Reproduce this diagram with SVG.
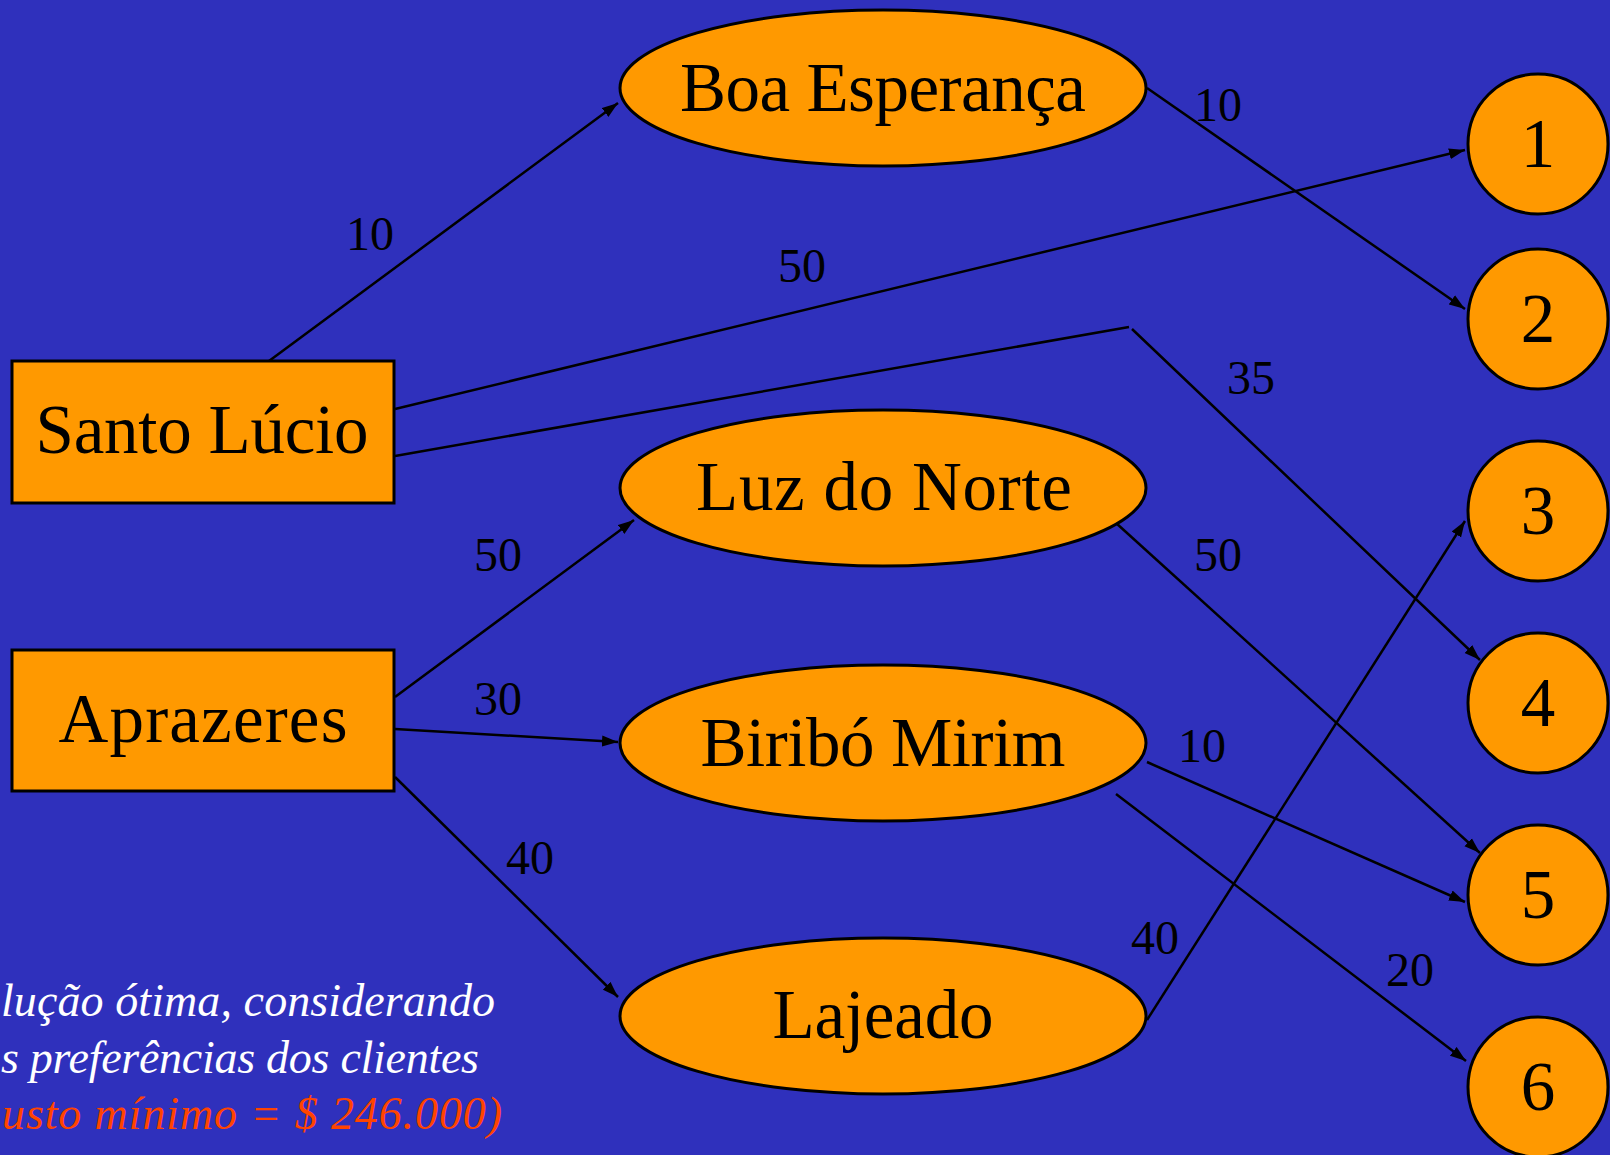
<svg xmlns="http://www.w3.org/2000/svg" width="1610" height="1155" viewBox="0 0 1610 1155">
<style>
.node{fill:#FF9900;stroke:#000;stroke-width:3}
.lbl{font-family:"Liberation Serif","Times New Roman",serif;font-size:69px;fill:#000;text-anchor:middle}
.num{font-family:"Liberation Serif","Times New Roman",serif;font-size:48px;fill:#000}
.con{fill:none;stroke:#000;stroke-width:2.5}
.note{font-family:"Liberation Serif","Times New Roman",serif;font-style:italic;font-size:46px}
</style>
<defs>
<marker id="arr" markerUnits="userSpaceOnUse" markerWidth="17" markerHeight="12" refX="16" refY="6" orient="auto">
<path d="M0,0.5 L16,6 L0,11.5 z" fill="#000"/>
</marker>
</defs>
<rect width="1610" height="1155" fill="#2F30BC"/>
<g id="connectors">
<path class="con" d="M269,361 L618,103" marker-end="url(#arr)"/>
<path class="con" d="M395,409 L1465,150" marker-end="url(#arr)"/>
<path class="con" d="M395,456 L1129,327 M1132,329 L1480,660" marker-end="url(#arr)"/>
<path class="con" d="M1147,88 L1465,309" marker-end="url(#arr)"/>
<path class="con" d="M395,697 L634,520" marker-end="url(#arr)"/>
<path class="con" d="M395,729 L618,742" marker-end="url(#arr)"/>
<path class="con" d="M395,777 L618,997" marker-end="url(#arr)"/>
<path class="con" d="M1116,523 L1480,853" marker-end="url(#arr)"/>
<path class="con" d="M1147,762 L1465,902" marker-end="url(#arr)"/>
<path class="con" d="M1116,794 L1466,1061" marker-end="url(#arr)"/>
<path class="con" d="M1147,1020 L1465,521" marker-end="url(#arr)"/>
</g>
<g id="edge-labels">
<text class="num" x="346" y="250">10</text>
<text class="num" x="778" y="282">50</text>
<text class="num" x="1194" y="121">10</text>
<text class="num" x="1227" y="394">35</text>
<text class="num" x="474" y="571">50</text>
<text class="num" x="1194" y="571">50</text>
<text class="num" x="474" y="715">30</text>
<text class="num" x="1178" y="762">10</text>
<text class="num" x="506" y="874">40</text>
<text class="num" x="1131" y="954">40</text>
<text class="num" x="1386" y="986">20</text>
</g>
<g id="santo-lucio">
<rect class="node" x="12" y="361" width="382" height="142"/>
<text class="lbl" x="202" y="453" textLength="333">Santo Lúcio</text>
</g>
<g id="aprazeres">
<rect class="node" x="12" y="650" width="382" height="141"/>
<text class="lbl" x="203" y="742" textLength="289">Aprazeres</text>
</g>
<g id="boa-esperanca">
<ellipse class="node" cx="883" cy="88" rx="263" ry="78"/>
<text class="lbl" x="883" y="111" textLength="406">Boa Esperança</text>
</g>
<g id="luz-do-norte">
<ellipse class="node" cx="883" cy="488" rx="263" ry="78"/>
<text class="lbl" x="884" y="510" textLength="376">Luz do Norte</text>
</g>
<g id="biribo-mirim">
<ellipse class="node" cx="883" cy="743" rx="263" ry="78"/>
<text class="lbl" x="883" y="766" textLength="365">Biribó Mirim</text>
</g>
<g id="lajeado">
<ellipse class="node" cx="883" cy="1016" rx="263" ry="78"/>
<text class="lbl" x="883" y="1038" textLength="221">Lajeado</text>
</g>
<g id="c1"><circle class="node" cx="1538" cy="144" r="70"/><text class="lbl" x="1538" y="167">1</text></g>
<g id="c2"><circle class="node" cx="1538" cy="319" r="70"/><text class="lbl" x="1538" y="342">2</text></g>
<g id="c3"><circle class="node" cx="1538" cy="511" r="70"/><text class="lbl" x="1538" y="534">3</text></g>
<g id="c4"><circle class="node" cx="1538" cy="703" r="70"/><text class="lbl" x="1538" y="726">4</text></g>
<g id="c5"><circle class="node" cx="1538" cy="895" r="70"/><text class="lbl" x="1538" y="918">5</text></g>
<g id="c6"><circle class="node" cx="1538" cy="1087" r="70"/><text class="lbl" x="1538" y="1110">6</text></g>
<g id="note">
<text class="note" x="1" y="1016" textLength="494" fill="#FFFFFF">lução ótima, considerando</text>
<text class="note" x="1" y="1073" textLength="478" fill="#FFFFFF">s preferências dos clientes</text>
<text class="note" x="2" y="1129" textLength="500" fill="#FF4400">usto mínimo = $ 246.000)</text>
</g>
</svg>
